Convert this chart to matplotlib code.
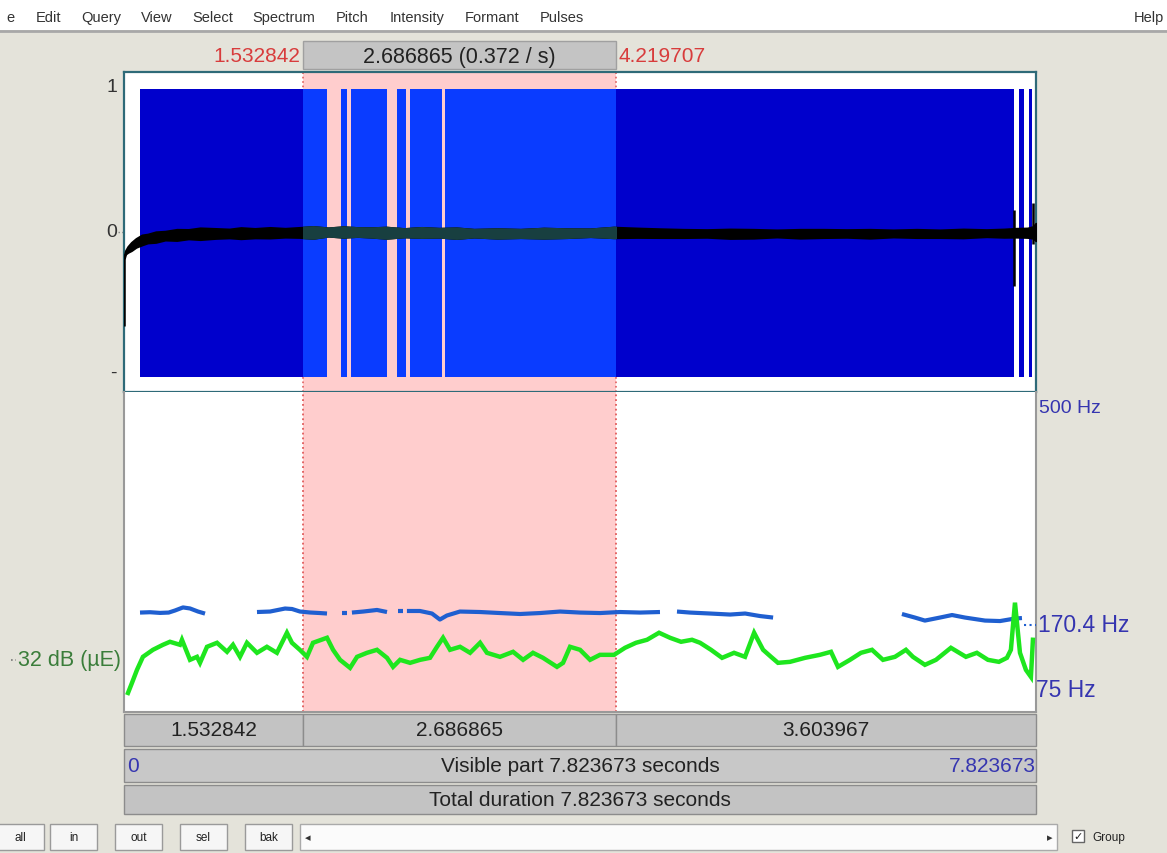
import matplotlib
matplotlib.use("Agg")
import matplotlib.pyplot as plt
import matplotlib.transforms as mtransforms
from matplotlib.patches import Rectangle

plt.rcParams['font.family'] = ['Liberation Sans', 'DejaVu Sans']

# --- times (s) ---
total_dur = 7.823673
sel_start = 1.532842
sel_end = 4.219707
cell_labels = ["1.532842", "2.686865", "3.603967"]

# voiced stretches shown as pulses (s)
pulse_start = [0.134, 1.861, 1.949, 2.343, 2.455, 2.756, 7.679, 7.761]
pulse_end = [1.741, 1.913, 2.251, 2.419, 2.726, 7.636, 7.722, 7.790]

# waveform envelope (centre and half width, amplitude units)
wave_t = [0.0, 0.01, 0.03, 0.06, 0.1, 0.15, 0.2, 0.27, 0.35, 0.45,
          0.55, 0.65, 0.78, 0.9, 1.0, 1.12, 1.25, 1.38, 1.5, 1.62,
          1.75, 1.88, 2.0, 2.12, 2.25, 2.4, 2.55, 2.7, 2.85, 3.0,
          3.2, 3.4, 3.6, 3.8, 4.0, 4.2, 4.4, 4.6, 4.8, 5.0,
          5.2, 5.4, 5.6, 5.8, 6.0, 6.2, 6.4, 6.6, 6.8, 7.0,
          7.2, 7.4, 7.55, 7.65, 7.75, 7.8, 7.823]
wave_mid = [-0.17, -0.14, -0.12, -0.1, -0.075, -0.055, -0.045, -0.035, -0.025, -0.02,
            -0.015, -0.012, -0.01, -0.01, -0.008, -0.008, -0.005, -0.005, -0.003, -0.003,
            0.0, 0.0, 0.0, -0.003, -0.005, -0.005, -0.003, -0.005, -0.008, -0.008,
            -0.01, -0.01, -0.008, -0.008, -0.005, -0.003, -0.005, -0.008, -0.01, -0.01,
            -0.012, -0.012, -0.01, -0.012, -0.01, -0.01, -0.012, -0.01, -0.01, -0.012,
            -0.01, -0.008, -0.008, -0.005, -0.005, -0.003, 0.0]
wave_half = [0.01, 0.012, 0.02, 0.028, 0.03, 0.034, 0.03, 0.036, 0.03, 0.038,
             0.032, 0.04, 0.034, 0.03, 0.038, 0.032, 0.036, 0.03, 0.034, 0.04,
             0.028, 0.036, 0.03, 0.032, 0.038, 0.028, 0.034, 0.03, 0.036, 0.026,
             0.032, 0.028, 0.034, 0.03, 0.026, 0.036, 0.032, 0.03, 0.028, 0.026,
             0.032, 0.03, 0.024, 0.03, 0.028, 0.026, 0.03, 0.024, 0.028, 0.026,
             0.03, 0.024, 0.028, 0.03, 0.032, 0.04, 0.06]
spike_t = [0.0, 7.636, 7.80]
spike_lo = [-0.65, -0.37, -0.08]
spike_hi = [-0.17, 0.15, 0.2]

# pitch (Hz), one list per voiced stretch
pitch_t = [
    [0.134, 0.22, 0.306, 0.38, 0.434, 0.503, 0.563, 0.632, 0.692],
    [1.138, 1.250, 1.379, 1.439, 1.507, 1.593, 1.679, 1.739],
    [1.868, 1.910],
    [1.953, 2.05, 2.168, 2.254],
    [2.348, 2.391],
    [2.425, 2.537, 2.640, 2.708, 2.768, 2.880, 3.052, 3.224, 3.396, 3.567,
     3.739, 3.911, 4.082, 4.254, 4.426, 4.597],
    [4.743, 4.855, 5.027, 5.199, 5.328, 5.456, 5.568],
    [6.674, 6.785, 6.871, 7.000, 7.104, 7.215, 7.387, 7.516, 7.644, 7.704],
]
pitch_hz = [
    [188, 188.5, 187.5, 188, 191, 195.5, 194, 189.5, 186.5],
    [188.8, 189.5, 193.9, 193.2, 189.5, 188.1, 187.3, 186.6],
    [188, 188],
    [188, 189.5, 191.8, 188.8],
    [190, 190],
    [190.3, 190.3, 186.6, 177.8, 183.7, 189.5, 188.8, 187.3, 185.9, 187.3,
     189.5, 188, 187.3, 188.8, 188, 188.8],
    [189.5, 188, 186.6, 185.1, 186.6, 182.9, 180.7],
    [185.9, 180.7, 176.3, 180.7, 184.4, 180.7, 176.3, 175.6, 179.3, 180],
]
pitch_cursor = 170.4

# intensity (dB)
int_t = [0.031, 0.065, 0.108, 0.159, 0.245, 0.331, 0.391, 0.477, 0.494, 0.563,
         0.623, 0.649, 0.709, 0.795, 0.881, 0.932, 0.992, 1.052, 1.138, 1.223,
         1.309, 1.395, 1.438, 1.506, 1.567, 1.619, 1.739, 1.791, 1.851, 1.937,
         1.997, 2.082, 2.168, 2.254, 2.306, 2.366, 2.452, 2.538, 2.623, 2.683,
         2.735, 2.795, 2.881, 2.967, 3.053, 3.112, 3.224, 3.336, 3.422, 3.507,
         3.593, 3.713, 3.765, 3.825, 3.911, 3.997, 4.082, 4.203, 4.297, 4.391,
         4.486, 4.589, 4.683, 4.778, 4.872, 4.941, 5.035, 5.130, 5.233, 5.327,
         5.405, 5.482, 5.550, 5.610, 5.713, 5.842, 5.970, 6.065, 6.125, 6.228,
         6.322, 6.417, 6.511, 6.614, 6.708, 6.768, 6.871, 6.966, 7.094, 7.223,
         7.317, 7.412, 7.506, 7.575, 7.609, 7.644, 7.687, 7.738, 7.781, 7.798]
int_db = [25.4, 27.4, 30.0, 32.6, 34.0, 35.0, 35.6, 35.0, 36.0, 32.0,
          32.6, 31.4, 34.6, 35.4, 33.6, 35.0, 32.6, 35.4, 33.4, 34.6,
          33.4, 37.4, 35.4, 34.0, 32.6, 35.4, 36.4, 34.0, 32.0, 30.4,
          32.6, 33.4, 34.0, 32.4, 30.6, 32.0, 31.4, 32.0, 32.4, 34.6,
          36.4, 34.0, 34.6, 33.4, 35.4, 33.4, 32.6, 33.6, 32.0, 33.4,
          32.4, 30.6, 31.4, 34.6, 34.0, 32.0, 33.0, 33.0, 34.4, 35.4,
          36.0, 37.4, 36.4, 35.6, 36.0, 35.4, 34.0, 32.4, 33.4, 32.6,
          37.4, 34.0, 32.6, 31.4, 31.6, 32.4, 33.0, 33.6, 30.6, 32.0,
          33.4, 34.0, 32.0, 32.6, 34.0, 32.6, 31.0, 32.0, 34.4, 32.6,
          33.4, 32.0, 31.6, 32.4, 34.0, 43.4, 33.4, 30.0, 28.6, 36.0]
int_cursor = 32

menu_items = ["e", "Edit", "Query", "View", "Select", "Spectrum", "Pitch",
              "Intensity", "Formant", "Pulses"]
menu_x = [6, 36, 81, 141, 192, 252, 336, 390, 465, 540]
buttons = ["all", "in", "out", "sel", "bak"]
button_x = [-3, 50, 115, 180, 245]

W, H = 1167, 854
bg_col = '#e4e3da'
pink = '#ffcdcd'
red_txt = '#d83c3c'
blue_txt = '#3535b0'
fs = 15

fig = plt.figure(figsize=(W / 100, H / 100), dpi=100, facecolor=bg_col)
bg = fig.add_axes([0, 0, 1, 1])
bg.set_xlim(0, W)
bg.set_ylim(H, 0)
bg.axis('off')

x_left, x_right = 124.4, 1035.9
wave_top, wave_bot, low_bot = 73, 393, 713


def fig_rect(x0, x1, y0, y1):
    return [x0 / W, 1 - y1 / H, (x1 - x0) / W, (y1 - y0) / H]


ax_wave = fig.add_axes(fig_rect(x_left, x_right, wave_top, wave_bot))
ax_low = fig.add_axes(fig_rect(x_left, x_right, wave_bot, low_bot))
ax_db = ax_low.twinx()
for a in (ax_wave, ax_low, ax_db):
    a.set_xlim(0, total_dur)
    a.set_xticks([])
    a.set_yticks([])
ax_wave.set_ylim(-1.103, 1.103)
ax_low.set_ylim(42.7, 510.3)
ax_db.set_ylim(21.6, 85.4)

tx = mtransforms.blended_transform_factory(ax_low.transData, bg.transData)

# menu bar
bg.add_patch(Rectangle((0, 0), W, 31, facecolor='white', edgecolor='none'))
bg.plot([0, W], [31.5, 31.5], color='#a8a8a8', lw=2)
for name, x in zip(menu_items, menu_x):
    bg.text(x, 18, name, fontsize=10.5, color='#333333', va='center', ha='left')
bg.text(1164, 18, "Help", fontsize=10.5, color='#333333', va='center', ha='right')

# top selection bar
sel_len = sel_end - sel_start
bg.add_patch(Rectangle((sel_start, 42), sel_len, 28, transform=tx,
                       facecolor='#c4c4c4', edgecolor='#a0a0a0', lw=1))
bg.annotate(f"{sel_start:.6f}", xy=(sel_start, 57), xycoords=tx, xytext=(-3, 0),
            textcoords='offset pixels', ha='right', va='center', fontsize=fs, color=red_txt)
bg.annotate(f"{sel_end:.6f}", xy=(sel_end, 57), xycoords=tx, xytext=(2, 0),
            textcoords='offset pixels', ha='left', va='center', fontsize=fs, color=red_txt)
bg.text((sel_start + sel_end) / 2, 57, f"{sel_len:.6f} ({1 / sel_len:.3f} / s)", transform=tx,
        ha='center', va='center', fontsize=15.5, color='#222222')

# waveform panel
ax_wave.set_facecolor('white')
ax_wave.axvspan(sel_start, sel_end, color=pink, lw=0, zorder=0)
for s in (sel_start, sel_end):
    ax_wave.axvline(s, color='#e06060', ls=':', lw=1.2, zorder=1)
for s, e in zip(pulse_start, pulse_end):
    pieces = [(s, min(e, sel_start), '#0000cc'),
              (max(s, sel_start), min(e, sel_end), '#0a3cff'),
              (max(s, sel_end), e, '#0000cc')]
    for a, b, c in pieces:
        if b > a:
            ax_wave.fill_between([a, b], -1.0, 0.985, color=c, lw=0, zorder=2)
lo = [m - h for m, h in zip(wave_mid, wave_half)]
hi = [m + h for m, h in zip(wave_mid, wave_half)]
ax_wave.fill_between(wave_t, lo, hi, color='black', lw=1.5, edgecolor='black', zorder=3)
sel_band = ax_wave.fill_between(wave_t, lo, hi, color='#183f40', lw=1.5, edgecolor='#183f40', zorder=4)
sel_band.set_clip_path(Rectangle((sel_start, -1.2), sel_len, 2.4, transform=ax_wave.transData))
ax_wave.vlines(spike_t, spike_lo, spike_hi, color='black', lw=1.8, zorder=4)
for sp in ax_wave.spines.values():
    sp.set_color('#2e6a78')
    sp.set_linewidth(1.6)
ax_wave.spines['bottom'].set_zorder(6)
for val, lab, va in [(1, "1", 'center'), (0, "0", 'center'), (-1, "-", 'baseline')]:
    ax_wave.text(-0.008, val, lab, transform=ax_wave.get_yaxis_transform(),
                 ha='right', va=va, fontsize=14, color='#333333')
ax_wave.plot([-0.007, 0], [0, 0], transform=ax_wave.get_yaxis_transform(),
             color='#888888', ls=':', lw=1, clip_on=False)

# pitch / intensity panel
ax_low.set_facecolor('white')
ax_low.axvspan(sel_start, sel_end, color=pink, lw=0, zorder=0)
for s in (sel_start, sel_end):
    ax_low.axvline(s, color='#e05a5a', ls=':', lw=1.3, zorder=1)
for tt, hz in zip(pitch_t, pitch_hz):
    ax_low.plot(tt, hz, color='#1f5fd0', lw=3, solid_capstyle='butt', zorder=3)
ax_low.plot([pitch_t[-1][-1] + 0.02, total_dur], [pitch_cursor, pitch_cursor],
            color='#1f5fd0', ls=':', lw=1.5, zorder=3)
ax_db.plot(int_t, int_db, color='#1ee61e', lw=3.2, solid_joinstyle='miter', zorder=2)
for sp in ax_low.spines.values():
    sp.set_color('#999999')
    sp.set_linewidth(1.5)
ax_low.spines['top'].set_visible(False)
for sp in ax_db.spines.values():
    sp.set_visible(False)

ytr = ax_low.get_yaxis_transform()
ax_low.text(1.003, 500, "500 Hz", transform=ytr, ha='left', va='top', fontsize=14, color=blue_txt)
ax_low.text(1.002, pitch_cursor, f"{pitch_cursor} Hz", transform=ytr, ha='left', va='center',
            fontsize=16.5, color=blue_txt)
ax_low.text(1.0, 75, "75 Hz", transform=ytr, ha='left', va='center', fontsize=16.5, color=blue_txt)
ax_db.text(-0.004, int_cursor, f"{int_cursor} dB (\u00b5E)", transform=ax_db.get_yaxis_transform(),
           ha='right', va='center', fontsize=15.5, color='#3a7d3a')
ax_db.plot([-0.124, -0.119], [int_cursor, int_cursor], transform=ax_db.get_yaxis_transform(),
           color='#777777', ls=':', lw=1.2, clip_on=False)

# time bars under the panels
rows = [(715, 747, '#c3c3c3'), (750, 783, '#c8c8c8'), (786, 815, '#c3c3c3')]
cells = [(0, sel_start), (sel_start, sel_end), (sel_end, total_dur)]
for (a, b), lab in zip(cells, cell_labels):
    bg.add_patch(Rectangle((a, rows[0][0]), b - a, rows[0][1] - rows[0][0], transform=tx,
                           facecolor=rows[0][2], edgecolor='#8c8c8c', lw=1))
    bg.text((a + b) / 2, (rows[0][0] + rows[0][1]) / 2, lab, transform=tx,
            ha='center', va='center', fontsize=fs, color='#222222')
for y0, y1, c in rows[1:]:
    bg.add_patch(Rectangle((0, y0), total_dur, y1 - y0, transform=tx,
                           facecolor=c, edgecolor='#8c8c8c', lw=1))
ymid2 = (rows[1][0] + rows[1][1]) / 2
ymid3 = (rows[2][0] + rows[2][1]) / 2
bg.annotate("0", xy=(0, ymid2), xycoords=tx, xytext=(3, 0), textcoords='offset pixels',
            ha='left', va='center', fontsize=fs, color=blue_txt)
bg.text(total_dur, ymid2, f"{total_dur:.6f}", transform=tx, ha='right', va='center',
        fontsize=fs, color=blue_txt)
bg.text(total_dur / 2, ymid2, f"Visible part {total_dur:.6f} seconds", transform=tx,
        ha='center', va='center', fontsize=fs, color='#222222')
bg.text(total_dur / 2, ymid3, f"Total duration {total_dur:.6f} seconds", transform=tx,
        ha='center', va='center', fontsize=fs, color='#222222')

# bottom buttons, scrollbar, checkbox
for lab, x in zip(buttons, button_x):
    bg.add_patch(Rectangle((x, 825), 47, 26, facecolor='#f6f6f6', edgecolor='#9a9a9a', lw=1))
    bg.text(x + 23.5, 838, lab, ha='center', va='center', fontsize=8.5, color='#222222')
bg.add_patch(Rectangle((300, 825), 757, 26, facecolor='#fbfbfb', edgecolor='#aaaaaa', lw=1))
bg.text(308, 838, "\u25c2", ha='center', va='center', fontsize=8, color='#333333')
bg.text(1050, 838, "\u25b8", ha='center', va='center', fontsize=8, color='#333333')
bg.add_patch(Rectangle((1072, 831), 12, 12, facecolor='white', edgecolor='#666666', lw=1))
bg.text(1078, 837, "\u2713", ha='center', va='center', fontsize=8, color='#222222',
        family=['DejaVu Sans'])
bg.text(1092, 838, "Group", ha='left', va='center', fontsize=8.5, color='#222222')

fig.savefig("out.png", dpi=100, facecolor=bg_col)
